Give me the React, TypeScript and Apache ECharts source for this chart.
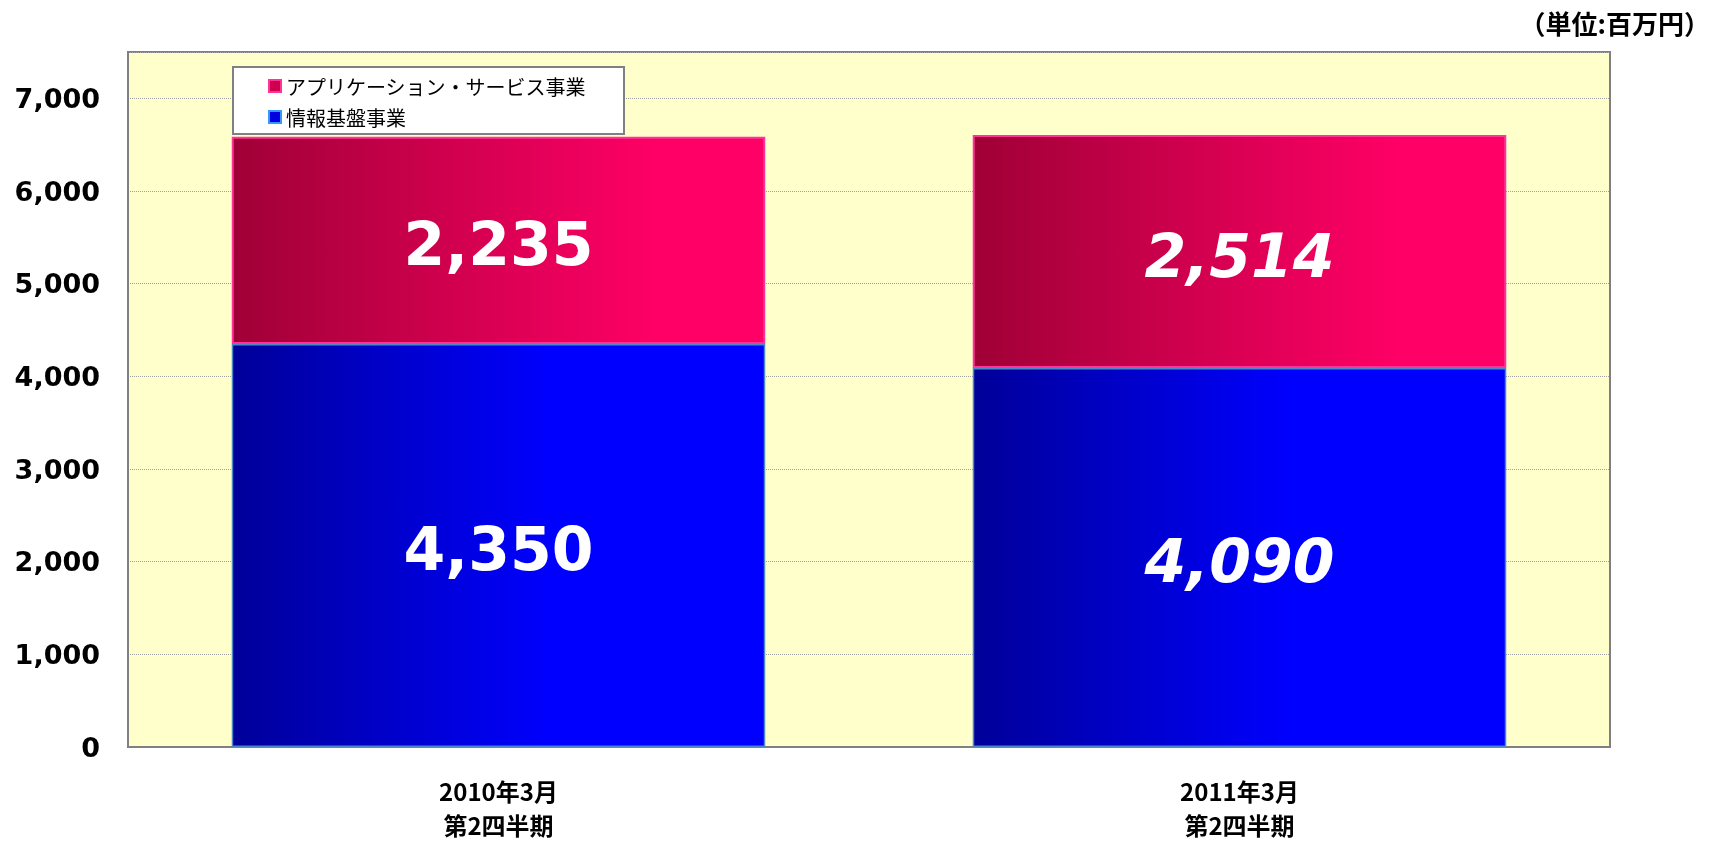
import React, { useEffect, useRef } from "react";
import * as echarts from "echarts";

const categories = ["2010年3月\n第2四半期", "2011年3月\n第2四半期"];
const infraValues = [4350, 4090];
const appValues = [2235, 2514];
const yTicks = [0, 1000, 2000, 3000, 4000, 5000, 6000, 7000];
const seriesNames = ["アプリケーション・サービス事業", "情報基盤事業"];
const unitLabel = "（単位:百万円）";

const fmt = (v: number) => v.toLocaleString("en-US");

export default function App() {
  const ref = useRef<HTMLDivElement>(null);
  useEffect(() => {
    if (!ref.current) return;
    const chart = echarts.init(ref.current, undefined, { renderer: "svg" });
    const blueGrad = new echarts.graphic.LinearGradient(0, 0, 1, 0, [
      { offset: 0, color: "#000099" },
      { offset: 0.6, color: "#0000FF" },
      { offset: 1, color: "#0000FF" },
    ]);
    const pinkGrad = new echarts.graphic.LinearGradient(0, 0, 1, 0, [
      { offset: 0, color: "#A00036" },
      { offset: 0.8, color: "#FF0066" },
      { offset: 1, color: "#FF0066" },
    ]);
    const labelBase = {
      show: true,
      position: "inside",
      offset: [0, 4],
      color: "#FFFFFF",
      fontFamily: "DejaVu Sans",
      fontWeight: "bold",
      fontSize: 60,
      formatter: (p: any) => fmt(p.value),
    };
    const mkData = (vals: number[]) =>
      vals.map((v, i) => ({
        value: v,
        label: { fontStyle: i === 1 ? "italic" : "normal" },
      }));
    chart.setOption({
      animation: false,
      grid: {
        left: 128,
        right: 110,
        top: 52,
        bottom: 91,
        show: true,
        backgroundColor: "#FFFFCC",
        borderColor: "#808080",
        borderWidth: 2,
      },
      graphic: [
        {
          type: "text",
          right: 10,
          top: 9,
          style: {
            text: unitLabel,
            fontFamily: "Noto Sans CJK JP",
            fontWeight: "bold",
            fontSize: 26,
            fill: "#000000",
          },
        },
      ],
      legend: {
        orient: "vertical",
        left: 233,
        top: 67,
        backgroundColor: "#FFFFFF",
        borderColor: "#808080",
        borderWidth: 2,
        borderRadius: 0,
        padding: [9, 38, 7, 35],
        itemGap: 11,
        itemWidth: 12,
        itemHeight: 12,
        icon: "rect",
        textStyle: {
          fontFamily: "Noto Sans CJK JP",
          fontSize: 20,
          color: "#000000",
        },
        data: [
          {
            name: seriesNames[0],
            itemStyle: { color: "#D0004C", borderColor: "#FF3399", borderWidth: 2 },
          },
          {
            name: seriesNames[1],
            itemStyle: { color: "#0000E0", borderColor: "#3399FF", borderWidth: 2 },
          },
        ],
      },
      xAxis: {
        type: "category",
        data: categories,
        axisLine: { show: true, lineStyle: { color: "#808080", width: 2 } },
        axisTick: { show: false },
        axisLabel: {
          margin: 26,
          color: "#000000",
          fontFamily: "Noto Sans CJK JP",
          fontWeight: "bold",
          fontSize: 24,
          lineHeight: 34,
        },
      },
      yAxis: {
        type: "value",
        min: 0,
        max: 7500,
        interval: 1000,
        axisLine: { show: true, lineStyle: { color: "#808080", width: 2 } },
        axisTick: { show: false },
        axisLabel: {
          margin: 28,
          color: "#000000",
          fontFamily: "DejaVu Sans",
          fontWeight: "bold",
          fontSize: 27,
          formatter: (v: number) => (yTicks.includes(v) ? fmt(v) : ""),
        },
        splitLine: {
          show: true,
          lineStyle: { color: "#A0A0A0", type: "dotted", width: 1 },
        },
      },
      series: [
        {
          name: seriesNames[1],
          type: "bar",
          stack: "total",
          barWidth: "72%",
          data: mkData(infraValues),
          itemStyle: { color: blueGrad, borderColor: "#4A86C8", borderWidth: 1.5 },
          label: labelBase,
        },
        {
          name: seriesNames[0],
          type: "bar",
          stack: "total",
          barWidth: "72%",
          data: mkData(appValues),
          itemStyle: { color: pinkGrad, borderColor: "#FF3399", borderWidth: 2 },
          label: labelBase,
        },
      ],
    });
    return () => chart.dispose();
  }, []);
  return (
    <div
      ref={ref}
      style={{ position: "fixed", left: 0, top: 0, width: 1720, height: 841 }}
    />
  );
}
